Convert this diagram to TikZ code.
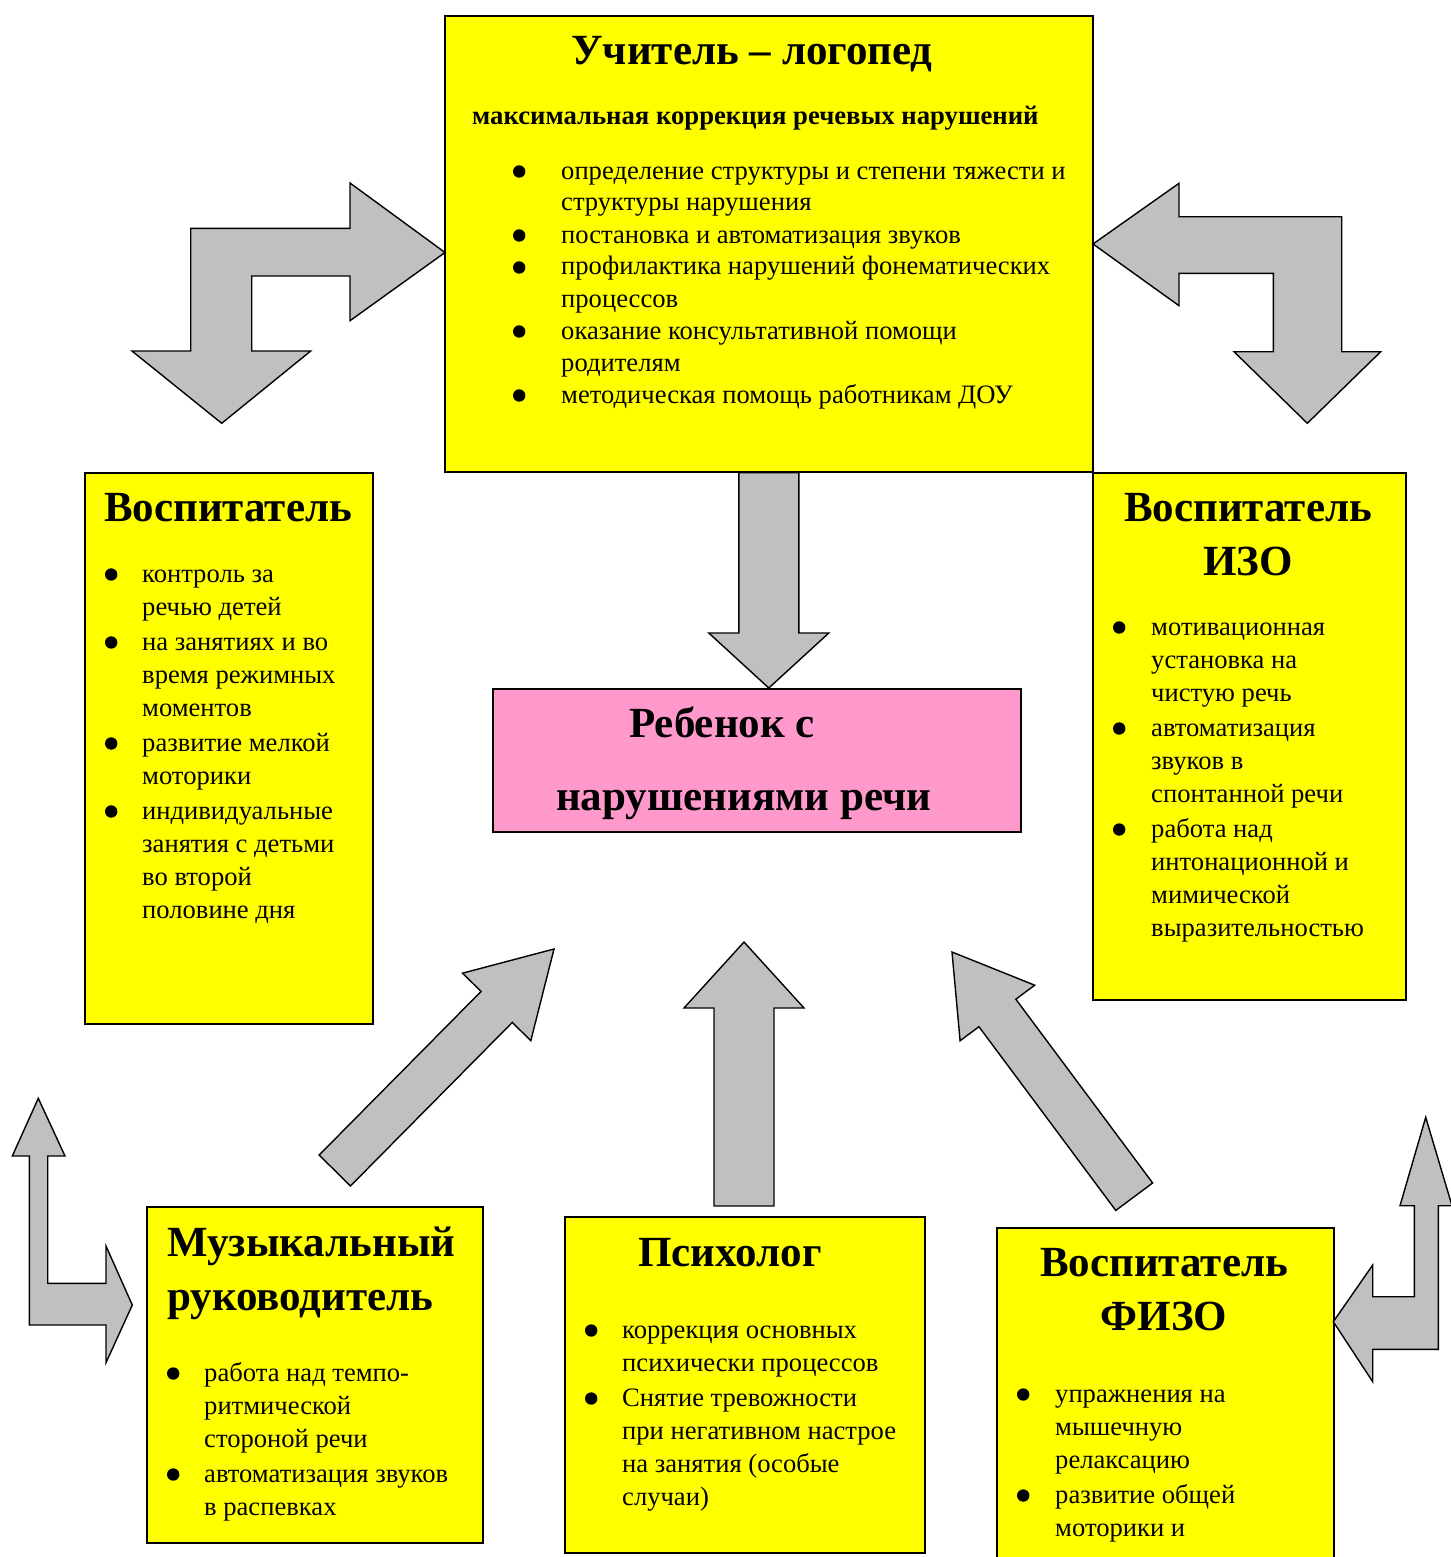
\documentclass[tikz,border=0pt]{standalone}
\usepackage{fontspec}
\setmainfont{Liberation Serif}
\usetikzlibrary{positioning, calc}

\definecolor{boxyellow}{HTML}{FFFF00}
\definecolor{childpink}{HTML}{FF99CC}
\definecolor{arrowgray}{HTML}{C0C0C0}

\newcommand{\bul}[1][36pt]{\makebox[#1][l]{\makebox[10pt][c]{\tikz[baseline=-7.5pt]\fill (0,0) circle[radius=6.2pt];}}}
\newcommand{\ttlfont}{\fontsize{43}{50}\selectfont\bfseries}
\newcommand{\lstfont}{\fontsize{26.6}{33}\selectfont}
% straight block arrow: tail, tip, half shaft, half head, head length
\newcommand{\fatarrow}[5]{%
  \coordinate (neck) at ($(#2)!#5!(#1)$);
  \draw[garrow] ($(#1)!#3!90:(#2)$) -- ($(neck)!#3!-90:(#1)$) -- ($(neck)!#4!-90:(#1)$)
    -- (#2) -- ($(neck)!#4!90:(#1)$) -- ($(neck)!#3!90:(#1)$) -- ($(#1)!#3!-90:(#2)$) -- cycle;}

\begin{document}
\begin{tikzpicture}[
    x=1pt, y=-1pt,
    ybox/.style={draw, line width=1.6pt, fill=boxyellow, inner sep=0pt, anchor=north west},
    pbox/.style={ybox, fill=childpink},
    ttl/.style={font=\ttlfont, inner sep=0pt, anchor=base},
    sub/.style={font=\fontsize{26.7}{30}\selectfont\bfseries, inner sep=0pt, anchor=base west},
    lst/.style={font=\lstfont, inner sep=0pt, anchor=base west},
    garrow/.style={draw, line width=1.4pt, fill=arrowgray, line join=miter},
]
\useasboundingbox[fill=white] (0,0) rectangle (1450,1557);

% boxes
\node[ybox, minimum width=648, minimum height=456] (logo) at (444,15) {};
\node[ybox, minimum width=288, minimum height=551] (vosp) at (84,472) {};
\node[ybox, minimum width=313, minimum height=527] (izo)  at (1092,472) {};
\node[pbox, minimum width=528, minimum height=143] (child) at (492,688) {};
\node[ybox, minimum width=336, minimum height=336] (muz)  at (146,1206) {};
\node[ybox, minimum width=360, minimum height=336] (psy)  at (564,1216) {};
\node[ybox, minimum width=337, minimum height=380] (fizo) at (996,1227) {};

% Учитель-логопед
\node[ttl] (logoT) at (752,65) {Учитель – логопед};
\node[sub] (logoS) at (472,125) {максимальная коррекция речевых нарушений};
\node[lst, font=\fontsize{26.6}{32}\selectfont] (logoL) at (514,179) {\begin{tabular}[t]{@{}l@{}l@{}}
\bul[47pt] & определение структуры и степени тяжести и\\
 & структуры нарушения\\
\bul[47pt] & постановка и автоматизация звуков\\
\bul[47pt] & профилактика нарушений фонематических\\
 & процессов\\
\bul[47pt] & оказание консультативной помощи\\
 & родителям\\
\bul[47pt] & методическая помощь работникам ДОУ
\end{tabular}};

% Воспитатель
\node[ttl] (vospT) at (228,521) {Воспитатель};
\node[lst] (vospL) at (106,582) {\begin{tabular}[t]{@{}l@{}l@{}}
\bul & контроль за\\
 & речью детей\\[2pt]
\bul & на занятиях и во\\
 & время режимных\\
 & моментов\\[2pt]
\bul & развитие мелкой\\
 & моторики\\[2pt]
\bul & индивидуальные\\
 & занятия с детьми\\
 & во второй\\
 & половине дня
\end{tabular}};

% Воспитатель ИЗО
\node[ttl] (izoT) at (1248,521) {Воспитатель};
\node[ttl] (izoT2) at (1248,575) {ИЗО};
\node[lst] (izoL) at (1114,635) {\begin{tabular}[t]{@{}l@{}l@{}}
\bul[37pt] & мотивационная\\
 & установка на\\
 & чистую речь\\[2pt]
\bul[37pt] & автоматизация\\
 & звуков в\\
 & спонтанной речи\\[2pt]
\bul[37pt] & работа над\\
 & интонационной и\\
 & мимической\\
 & выразительностью
\end{tabular}};

% Ребенок
\node[ttl, anchor=base west] (childT) at (629,737) {Ребенок с};
\node[ttl, anchor=base west] (childT2) at (556,810) {нарушениями речи};

% Музыкальный руководитель
\node[ttl, anchor=base west] (muzT) at (167,1256) {Музыкальный};
\node[ttl, anchor=base west] (muzT2) at (167,1310) {руководитель};
\node[lst] (muzL) at (168,1381) {\begin{tabular}[t]{@{}l@{}l@{}}
\bul & работа над темпо-\\
 & ритмической\\
 & стороной речи\\[2pt]
\bul & автоматизация звуков\\
 & в распевках
\end{tabular}};

% Психолог
\node[ttl] (psyT) at (730,1266) {Психолог};
\node[lst] (psyL) at (586,1338) {\begin{tabular}[t]{@{}l@{}l@{}}
\bul & коррекция основных\\
 & психически процессов\\[2pt]
\bul & Снятие тревожности\\
 & при негативном настрое\\
 & на занятия (особые\\
 & случаи)
\end{tabular}};

% Воспитатель ФИЗО
\node[ttl] (fizoT) at (1164,1276) {Воспитатель};
\node[ttl] (fizoT2) at (1164,1330) {ФИЗО};
\node[lst] (fizoL) at (1018,1402) {\begin{tabular}[t]{@{}l@{}l@{}}
\bul[37pt] & упражнения на\\
 & мышечную\\
 & релаксацию\\[2pt]
\bul[37pt] & развитие общей\\
 & моторики и
\end{tabular}};

% bent arrows at the top
\draw[garrow] (445,252.5) -- (350,320.7) -- (350,276) -- (251.7,276) -- (251.7,351)
  -- (310.7,351) -- (221.7,423.3) -- (132,351) -- (190.7,351) -- (190.7,228.3)
  -- (350,228.3) -- (350,183) -- cycle;
\draw[garrow] (1093,244) -- (1179,183.3) -- (1179,216.7) -- (1341.7,216.7) -- (1341.7,351.7)
  -- (1380.7,351.7) -- (1307.3,423.3) -- (1234,351.7) -- (1273.3,351.7) -- (1273.3,273.3)
  -- (1179,273.3) -- (1179,305.7) -- cycle;

% bent arrows at the bottom
\draw[garrow] (38.3,1098.3) -- (65,1156) -- (47.7,1156) -- (47.7,1283.3) -- (106,1283.3)
  -- (106,1246) -- (132.3,1305) -- (106,1362.7) -- (106,1325) -- (29.3,1325)
  -- (29.3,1156) -- (12.3,1156) -- cycle;
\draw[garrow] (1425.7,1117.3) -- (1452,1205.7) -- (1438.3,1205.7) -- (1438.3,1349.3)
  -- (1372.7,1349.3) -- (1372.7,1381.7) -- (1333.3,1321.7) -- (1372.7,1265) -- (1372.7,1296.7)
  -- (1414.3,1296.7) -- (1414.3,1205.7) -- (1400,1205.7) -- cycle;

% straight arrows to the child
\coordinate (dnA) at (logo.south);
\coordinate (dnB) at (logo.south |- child.north);
\fatarrow{dnA}{dnB}{30pt}{60pt}{55pt}
\coordinate (upA) at (744,1206);
\coordinate (upB) at (744,942);
\fatarrow{upA}{upB}{30pt}{60pt}{66pt}
\coordinate (muzA) at (334.8,1170.5);
\coordinate (muzB) at (554,949);
\fatarrow{muzA}{muzB}{22pt}{48pt}{81.5pt}
\coordinate (fizoA) at (1134.2,1196.7);
\coordinate (fizoB) at (952,952);
\fatarrow{fizoA}{fizoB}{23pt}{46.5pt}{76pt}

\end{tikzpicture}
\end{document}
